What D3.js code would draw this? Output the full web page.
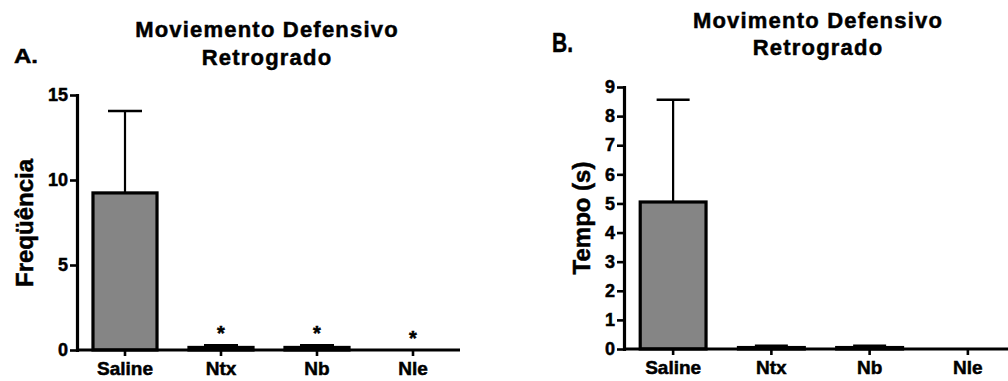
<!DOCTYPE html>
<html>
<head>
<meta charset="utf-8">
<script src="https://cdn.jsdelivr.net/npm/d3@7"></script>
<style>
  html, body { margin: 0; padding: 0; background: #fff; }
  svg { display: block; }
  text { font-family: "Liberation Sans", Arial, sans-serif; font-weight: bold; fill: #000; stroke: #000; stroke-width: 0.5px; }
</style>
</head>
<body>
<svg id="chart" width="1008" height="381"></svg>
<script>
// ---- data ----
const categories = ["Saline", "Ntx", "Nb", "Nle"];
const freqMean = [9.24, 0.15, 0.15, 0];
const freqSem = [4.82, 0.12, 0.12, 0];
const tempoMean = [5.05, 0.05, 0.05, 0];
const tempoSem = [3.51, 0.06, 0.06, 0];
const freqTicks = [0, 5, 10, 15];
const tempoTicks = [0, 1, 2, 3, 4, 5, 6, 7, 8, 9];
const freqMarks = ["", "*", "*", "*"];
const tempoMarks = ["", "", "", ""];

const svg = d3.select("#chart");

function panel(opts) {
  const g = svg.append("g");
  const x = d3.scaleBand().domain(categories).range(opts.xRange).paddingInner(0).paddingOuter(0);
  const y = d3.scaleLinear().domain([0, opts.yMax]).range(opts.yRange);
  const bw = x.bandwidth() * opts.barFrac;
  const cx = c => x(c) + x.bandwidth() / 2;

  categories.forEach((c, i) => {
    const m = opts.mean[i], s = opts.sem[i];
    if (s > 0) {
      g.append("line")
        .attr("x1", cx(c)).attr("x2", cx(c))
        .attr("y1", y(m)).attr("y2", y(m + s))
        .attr("stroke", "#000").attr("stroke-width", 2.2);
      g.append("line")
        .attr("x1", cx(c) - opts.cap / 2).attr("x2", cx(c) + opts.cap / 2)
        .attr("y1", y(m + s)).attr("y2", y(m + s))
        .attr("stroke", "#000").attr("stroke-width", 2.6);
    }
    g.append("rect")
      .attr("x", cx(c) - bw / 2)
      .attr("y", y(m))
      .attr("width", bw)
      .attr("height", Math.max(0, y(0) - y(m)))
      .attr("fill", "#858585")
      .attr("stroke", "#000")
      .attr("stroke-width", 3.2);
    if (opts.marks[i]) {
      g.append("text")
        .attr("x", cx(c)).attr("y", y(m + s) - 5)
        .attr("text-anchor", "middle")
        .style("font-size", "20px")
        .text(opts.marks[i]);
    }
  });

  const ya = g.append("g")
    .attr("transform", `translate(${opts.xRange[0]},0)`)
    .call(d3.axisLeft(y).tickValues(opts.ticks).tickFormat(d3.format("d")).tickSize(7).tickSizeOuter(0).tickPadding(2));
  ya.select(".domain").attr("stroke-width", 3.2).attr("stroke-linecap", "square");
  ya.selectAll(".tick line").attr("stroke-width", 2.6);
  ya.selectAll(".tick text").style("font-size", opts.tickFont + "px").attr("font-family", null).attr("fill", "#000");

  const xa = g.append("g")
    .attr("transform", `translate(0,${opts.yRange[0]})`)
    .call(d3.axisBottom(x).tickSize(6).tickSizeOuter(0).tickPadding(6));
  xa.select(".domain").attr("stroke-width", 3.2).attr("d", `M${opts.xRange[0]},0H${opts.xEnd}`);
  xa.selectAll(".tick line").attr("stroke-width", 2.6);
  xa.selectAll(".tick text").style("font-size", "19px").attr("font-family", null).attr("fill", "#000");

  g.append("text")
    .attr("transform", `translate(${opts.yTitleX},${opts.yTitleY}) rotate(-90)`)
    .attr("text-anchor", "middle")
    .style("font-size", "24px")
    .text(opts.yTitle);

  const t = g.append("text")
    .attr("text-anchor", "middle")
    .style("font-size", "22px")
    .style("letter-spacing", "1.2px");
  t.append("tspan").attr("x", opts.titleX).attr("y", opts.titleY1).text(opts.title1);
  t.append("tspan").attr("x", opts.titleX).attr("y", opts.titleY2).text("Retrogrado");

  g.append("text")
    .attr("x", opts.letterX).attr("y", opts.letterY)
    .style("font-size", opts.letterFont + "px")
    .attr("textLength", opts.letterW).attr("lengthAdjust", "spacingAndGlyphs")
    .text(opts.letter);
}

panel({
  xRange: [77, 461], xEnd: 460, yRange: [350, 95], yMax: 15, barFrac: 0.667, cap: 34,
  mean: freqMean, sem: freqSem, ticks: freqTicks, marks: freqMarks, tickFont: 18,
  yTitle: "Freqüência", yTitleX: 33, yTitleY: 223,
  title1: "Moviemento Defensivo", titleX: 267, titleY1: 37, titleY2: 65,
  letter: "A.", letterX: 14, letterY: 63, letterFont: 21, letterW: 24
});

panel({
  xRange: [624, 1017], xEnd: 1008, yRange: [349, 87], yMax: 9, barFrac: 0.67, cap: 33,
  mean: tempoMean, sem: tempoSem, ticks: tempoTicks, marks: tempoMarks, tickFont: 18,
  yTitle: "Tempo (s)", yTitleX: 590, yTitleY: 218,
  title1: "Movimento Defensivo", titleX: 818, titleY1: 28, titleY2: 55,
  letter: "B.", letterX: 552, letterY: 52, letterFont: 27, letterW: 21
});
</script>
</body>
</html>
